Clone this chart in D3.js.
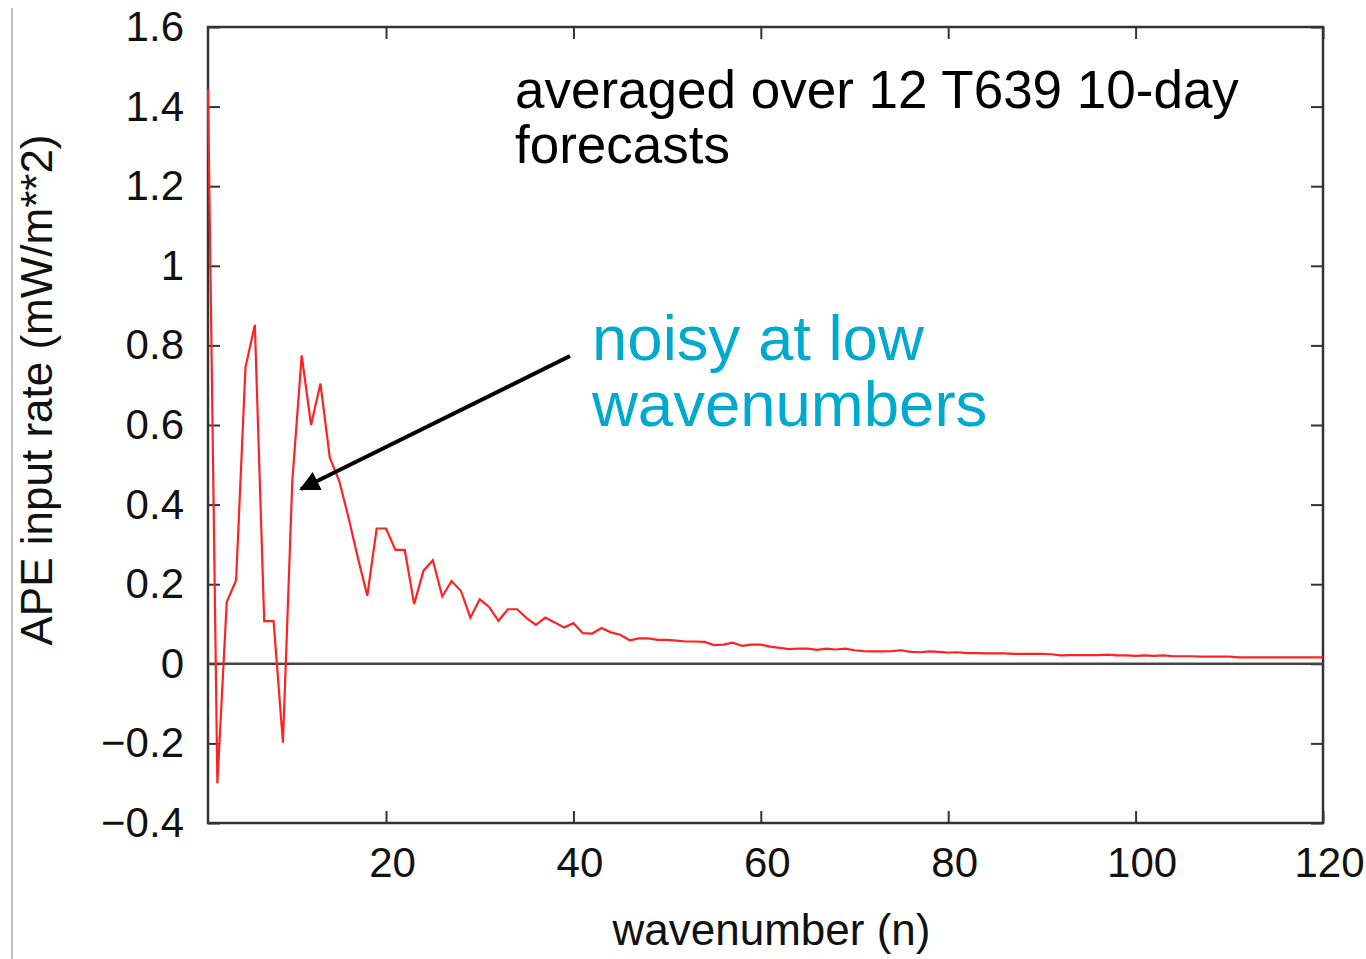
<!DOCTYPE html>
<html>
<head>
<meta charset="utf-8">
<script src="https://cdn.jsdelivr.net/npm/d3@7"></script>
<style>
  html, body { margin: 0; padding: 0; background: #fff; }
  svg text { font-family: "Liberation Sans", Arial, Helvetica, sans-serif; }
</style>
</head>
<body>
<div id="chart"></div>
<script>
// Chart size and plot margins
const width = 1366;
const height = 959;
const margin = {left: 208, right: 43, top: 27, bottom: 136};

// wavenumber n = 1..120
const wavenumbers = d3.range(1, 121);

// APE input rate (mW/m**2), one per wavenumber
const apeRate = [
  1.445, -0.300, 0.155, 0.210, 0.745, 0.852, 0.107, 0.107, -0.198, 0.460,
  0.775, 0.600, 0.704, 0.518, 0.460, 0.367, 0.266, 0.171, 0.340, 0.340,
  0.286, 0.286, 0.150, 0.234, 0.260, 0.169, 0.208, 0.183, 0.116, 0.162,
  0.143, 0.108, 0.137, 0.137, 0.115, 0.098, 0.116, 0.104, 0.091, 0.102,
  0.077, 0.076, 0.090, 0.079, 0.073, 0.059, 0.064, 0.064, 0.060, 0.060,
  0.058, 0.056, 0.056, 0.055, 0.047, 0.048, 0.053, 0.045, 0.048, 0.048,
  0.043, 0.040, 0.037, 0.038, 0.038, 0.035, 0.038, 0.036, 0.038, 0.034,
  0.032, 0.031, 0.031, 0.032, 0.034, 0.030, 0.029, 0.031, 0.030, 0.028,
  0.029, 0.027, 0.027, 0.026, 0.026, 0.026, 0.025, 0.025, 0.025, 0.025,
  0.024, 0.021, 0.022, 0.022, 0.022, 0.022, 0.023, 0.021, 0.021, 0.020,
  0.021, 0.020, 0.021, 0.019, 0.019, 0.019, 0.018, 0.018, 0.018, 0.018,
  0.016, 0.016, 0.016, 0.016, 0.016, 0.016, 0.016, 0.016, 0.016, 0.016
];

// tick values
const xTicks = [20, 40, 60, 80, 100, 120];
const yTicks = [-0.4, -0.2, 0, 0.2, 0.4, 0.6, 0.8, 1, 1.2, 1.4, 1.6];

// text
const xTitle = "wavenumber (n)";
const yTitle = "APE input rate (mW/m**2)";
const noteLines = ["averaged over 12 T639 10-day", "forecasts"];
const calloutLines = ["noisy at low", "wavenumbers"];

const data = wavenumbers.map((n, i) => ({n: n, v: apeRate[i]}));

const svg = d3.select("#chart")
  .append("svg")
  .attr("width", width)
  .attr("height", height)
  .attr("viewBox", [0, 0, width, height]);

// slide border line on the far left
svg.append("line")
  .attr("x1", 12).attr("x2", 12)
  .attr("y1", 8).attr("y2", height)
  .attr("stroke", "#c0c0c0")
  .attr("stroke-width", 2);

// Scales
let xScale = d3.scaleLinear()
  .domain([1, 120])
  .range([margin.left, width - margin.right]);

let yScale = d3.scaleLinear()
  .domain([-0.4, 1.6])
  .range([height - margin.bottom, margin.top]);

const tickFmt = d => d === 0 ? "0" : (d < 0 ? "\u2212" + Math.abs(d) : String(d));

// Axes: ticks point inward, mirrored on top/right
const axisColor = "#333";

const gLeft = svg.append("g")
  .attr("transform", `translate(${margin.left},0)`)
  .call(d3.axisLeft(yScale).tickValues(yTicks).tickSize(-12).tickPadding(24).tickFormat(tickFmt));
gLeft.selectAll("text").attr("font-size", "42px").attr("fill", "#111")
  .attr("font-family", "'Liberation Sans', Arial, sans-serif");

const gRight = svg.append("g")
  .attr("transform", `translate(${width - margin.right},0)`)
  .call(d3.axisRight(yScale).tickValues(yTicks).tickSize(-12).tickFormat(""));

const gBottom = svg.append("g")
  .attr("transform", `translate(0,${height - margin.bottom})`)
  .call(d3.axisBottom(xScale).tickValues(xTicks).tickSize(-12).tickPadding(24).tickFormat(d3.format("d")));
gBottom.selectAll("text").attr("font-size", "42px").attr("fill", "#111")
  .attr("dx", "6px")
  .attr("font-family", "'Liberation Sans', Arial, sans-serif");

const gTop = svg.append("g")
  .attr("transform", `translate(0,${margin.top})`)
  .call(d3.axisTop(xScale).tickValues(xTicks).tickSize(-12).tickFormat(""));

[gLeft, gRight, gBottom, gTop].forEach(g => {
  g.select(".domain").remove();
  g.selectAll("line").attr("stroke", axisColor).attr("stroke-width", 2);
});

// plot frame
svg.append("rect")
  .attr("x", margin.left)
  .attr("y", margin.top)
  .attr("width", width - margin.left - margin.right)
  .attr("height", height - margin.top - margin.bottom)
  .attr("fill", "none")
  .attr("stroke", axisColor)
  .attr("stroke-width", 2.5);

// zero line
svg.append("line")
  .attr("x1", xScale(1)).attr("x2", xScale(120))
  .attr("y1", yScale(0)).attr("y2", yScale(0))
  .attr("stroke", "#444")
  .attr("stroke-width", 2.5);

// data line (drawn over the frame, as in the original)
const line = d3.line()
  .x(d => xScale(d.n))
  .y(d => yScale(d.v));

svg.append("path")
  .datum(data)
  .attr("fill", "none")
  .attr("stroke", "#ff2222")
  .attr("stroke-width", 2.2)
  .attr("stroke-linejoin", "miter")
  .attr("d", line);

// axis titles
svg.append("text")
  .attr("x", (margin.left + width - margin.right) / 2 + 6)
  .attr("y", 945)
  .attr("text-anchor", "middle")
  .attr("font-size", "44px")
  .attr("fill", "#111")
  .text(xTitle);

svg.append("text")
  .attr("transform", `translate(52,${(27 + 823) / 2 - 35}) rotate(-90)`)
  .attr("text-anchor", "middle")
  .attr("font-size", "44px")
  .attr("fill", "#111")
  .text(yTitle);

// note at top
svg.append("text")
  .attr("x", 515)
  .attr("y", 108)
  .attr("font-size", "53px")
  .attr("fill", "#000")
  .selectAll("tspan")
  .data(noteLines)
  .enter()
  .append("tspan")
    .attr("x", 515)
    .attr("dy", (d, i) => i === 0 ? 0 : 55)
    .text(d => d);

// callout
svg.append("text")
  .attr("x", 592)
  .attr("y", 360)
  .attr("font-size", "63.5px")
  .attr("fill", "#00aacf")
  .selectAll("tspan")
  .data(calloutLines)
  .enter()
  .append("tspan")
    .attr("x", 592)
    .attr("dy", (d, i) => i === 0 ? 0 : 66)
    .text(d => d);

// arrow pointing at the noisy part
svg.append("defs").append("marker")
  .attr("id", "arrowhead")
  .attr("viewBox", "0 0 10 10")
  .attr("refX", 9)
  .attr("refY", 5)
  .attr("markerWidth", 6)
  .attr("markerHeight", 5)
  .attr("markerUnits", "strokeWidth")
  .attr("orient", "auto")
  .append("path")
    .attr("d", "M0,0 L10,5 L0,10 z")
    .attr("fill", "#000");

svg.append("line")
  .attr("x1", 570).attr("y1", 356)
  .attr("x2", 301).attr("y2", 489)
  .attr("stroke", "#000")
  .attr("stroke-width", 4)
  .attr("marker-end", "url(#arrowhead)");
</script>
</body>
</html>
